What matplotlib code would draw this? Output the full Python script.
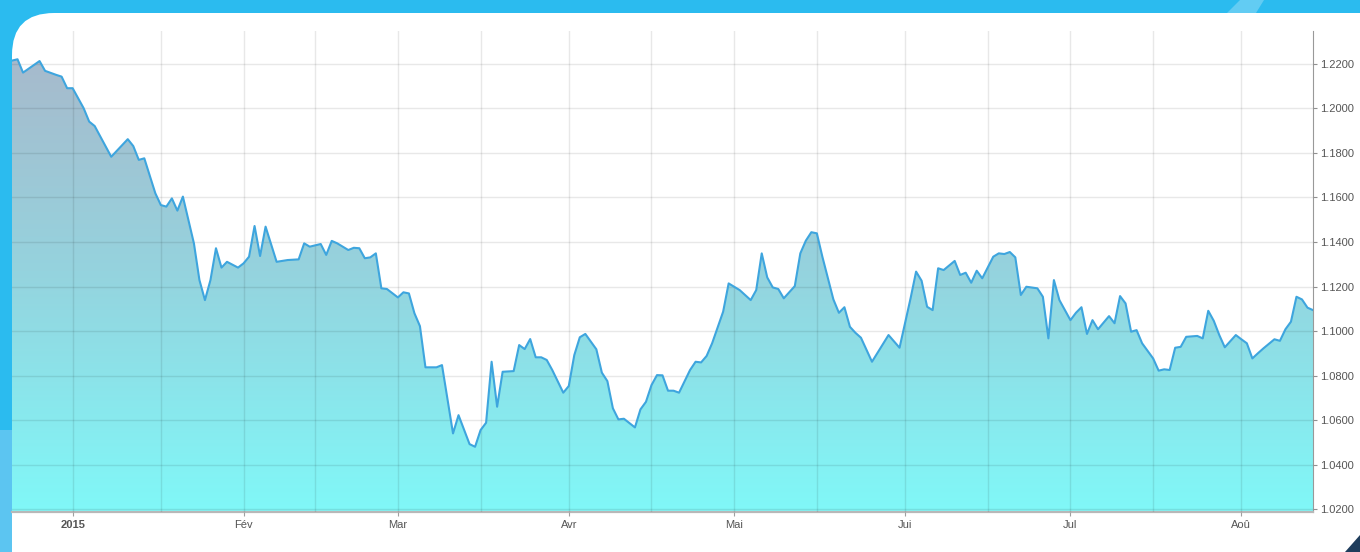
import numpy as np
import pandas as pd
import matplotlib
matplotlib.use("Agg")
import matplotlib.pyplot as plt
import matplotlib.dates as mdates
from matplotlib.colors import LinearSegmentedColormap
from matplotlib.patches import FancyBboxPatch, PathPatch, Polygon
from matplotlib import font_manager

# EUR/USD, dec 2014 - aug 2015
dates = [
    "2014-12-21", "2014-12-22", "2014-12-23", "2014-12-26", "2014-12-27", "2014-12-29",
    "2014-12-30", "2014-12-31", "2015-01-01", "2015-01-03", "2015-01-04", "2015-01-05",
    "2015-01-08", "2015-01-11", "2015-01-12", "2015-01-13", "2015-01-14", "2015-01-16",
    "2015-01-17", "2015-01-18", "2015-01-19", "2015-01-20", "2015-01-21", "2015-01-23",
    "2015-01-24", "2015-01-25", "2015-01-26", "2015-01-27", "2015-01-28", "2015-01-29",
    "2015-01-31", "2015-02-01", "2015-02-02", "2015-02-03", "2015-02-04", "2015-02-05",
    "2015-02-07", "2015-02-08", "2015-02-09", "2015-02-11", "2015-02-12", "2015-02-13",
    "2015-02-15", "2015-02-16", "2015-02-17", "2015-02-18", "2015-02-20", "2015-02-21",
    "2015-02-22", "2015-02-23", "2015-02-24", "2015-02-25", "2015-02-26", "2015-02-27",
    "2015-03-01", "2015-03-02", "2015-03-03", "2015-03-04", "2015-03-05", "2015-03-06",
    "2015-03-08", "2015-03-09", "2015-03-11", "2015-03-12", "2015-03-14", "2015-03-15",
    "2015-03-16", "2015-03-17", "2015-03-18", "2015-03-19", "2015-03-20", "2015-03-22",
    "2015-03-23", "2015-03-24", "2015-03-25", "2015-03-26", "2015-03-27", "2015-03-28",
    "2015-03-29", "2015-03-31", "2015-04-01", "2015-04-02", "2015-04-03", "2015-04-04",
    "2015-04-06", "2015-04-07", "2015-04-08", "2015-04-09", "2015-04-10", "2015-04-11",
    "2015-04-13", "2015-04-14", "2015-04-15", "2015-04-16", "2015-04-17", "2015-04-18",
    "2015-04-19", "2015-04-20", "2015-04-21", "2015-04-23", "2015-04-24", "2015-04-25",
    "2015-04-26", "2015-04-27", "2015-04-29", "2015-04-30", "2015-05-02", "2015-05-04",
    "2015-05-05", "2015-05-06", "2015-05-07", "2015-05-08", "2015-05-09", "2015-05-10",
    "2015-05-12", "2015-05-13", "2015-05-14", "2015-05-15", "2015-05-16", "2015-05-17",
    "2015-05-19", "2015-05-20", "2015-05-21", "2015-05-22", "2015-05-23", "2015-05-24",
    "2015-05-26", "2015-05-29", "2015-05-31", "2015-06-02", "2015-06-03", "2015-06-04",
    "2015-06-05", "2015-06-06", "2015-06-07", "2015-06-08", "2015-06-10", "2015-06-11",
    "2015-06-12", "2015-06-13", "2015-06-14", "2015-06-15", "2015-06-17", "2015-06-18",
    "2015-06-19", "2015-06-20", "2015-06-21", "2015-06-22", "2015-06-23", "2015-06-25",
    "2015-06-26", "2015-06-27", "2015-06-28", "2015-06-29", "2015-07-01", "2015-07-02",
    "2015-07-03", "2015-07-04", "2015-07-05", "2015-07-06", "2015-07-08", "2015-07-09",
    "2015-07-10", "2015-07-11", "2015-07-12", "2015-07-13", "2015-07-14", "2015-07-16",
    "2015-07-17", "2015-07-18", "2015-07-19", "2015-07-20", "2015-07-21", "2015-07-22",
    "2015-07-24", "2015-07-25", "2015-07-26", "2015-07-27", "2015-07-28", "2015-07-29",
    "2015-07-31", "2015-08-01", "2015-08-02", "2015-08-03", "2015-08-04", "2015-08-05",
    "2015-08-07", "2015-08-08", "2015-08-09", "2015-08-10", "2015-08-11", "2015-08-12",
    "2015-08-13", "2015-08-14",
]
rates = [
    1.2215, 1.2221, 1.2161, 1.2213, 1.2169, 1.2151,
    1.2143, 1.2091, 1.2091, 1.2001, 1.1941, 1.1921,
    1.1783, 1.1862, 1.1831, 1.1769, 1.1776, 1.1619,
    1.1566, 1.1559, 1.1596, 1.1541, 1.1604, 1.1394,
    1.1229, 1.1139, 1.1229, 1.1372, 1.1285, 1.1311,
    1.1285, 1.1304, 1.1334, 1.1472, 1.1337, 1.1469,
    1.1311, 1.1315, 1.1319, 1.1322, 1.1394, 1.1379,
    1.1391, 1.1342, 1.1405, 1.1394, 1.1364, 1.1374,
    1.1372, 1.1327, 1.1331, 1.1349, 1.1192, 1.1189,
    1.1151, 1.1174, 1.1169, 1.1080, 1.1022, 1.0837,
    1.0837, 1.0847, 1.0540, 1.0622, 1.0492, 1.0480,
    1.0555, 1.0588, 1.0862, 1.0660, 1.0817, 1.0820,
    1.0937, 1.0919, 1.0964, 1.0882, 1.0882, 1.0870,
    1.0825, 1.0723, 1.0753, 1.0892, 1.0972, 1.0987,
    1.0918, 1.0813, 1.0775, 1.0653, 1.0603, 1.0606,
    1.0567, 1.0648, 1.0682, 1.0757, 1.0802, 1.0801,
    1.0732, 1.0732, 1.0723, 1.0825, 1.0862, 1.0859,
    1.0888, 1.0945, 1.1087, 1.1214, 1.1184, 1.1139,
    1.1184, 1.1349, 1.1241, 1.1196, 1.1189, 1.1147,
    1.1202, 1.1349, 1.1406, 1.1444, 1.1439, 1.1334,
    1.1142, 1.1082, 1.1107, 1.1019, 1.0992, 1.0970,
    1.0862, 1.0982, 1.0925, 1.1147, 1.1267, 1.1226,
    1.1109, 1.1094, 1.1282, 1.1274, 1.1315, 1.1252,
    1.1262, 1.1217, 1.1271, 1.1237, 1.1334, 1.1349,
    1.1346, 1.1355, 1.1331, 1.1162, 1.1199, 1.1192,
    1.1154, 1.0967, 1.1229, 1.1139, 1.1049, 1.1082,
    1.1107, 1.0987, 1.1049, 1.1008, 1.1067, 1.1035,
    1.1157, 1.1124, 1.0997, 1.1004, 1.0945, 1.0877,
    1.0822, 1.0828, 1.0825, 1.0925, 1.0929, 1.0974,
    1.0978, 1.0967, 1.1091, 1.1046, 1.0982, 1.0927,
    1.0982, 1.0963, 1.0945, 1.0877, 1.0900, 1.0922,
    1.0963, 1.0956, 1.1008, 1.1042, 1.1154, 1.1142,
    1.1105, 1.1094,
]

month_ticks = ["2015-01-01", "2015-02-01", "2015-03-01", "2015-04-01",
               "2015-05-01", "2015-06-01", "2015-07-01", "2015-08-01"]
month_labels = ["2015", "Fév", "Mar", "Avr", "Mai", "Jui", "Jul", "Aoû"]
mid_ticks = ["2015-01-17", "2015-02-14", "2015-03-16", "2015-04-16",
             "2015-05-16", "2015-06-16", "2015-07-16"]
y_ticks = [1.02, 1.04, 1.06, 1.08, 1.10, 1.12, 1.14, 1.16, 1.18, 1.20, 1.22]

installed = {f.name for f in font_manager.fontManager.ttflist}
fam = [f for f in ["Liberation Sans Narrow", "Liberation Sans", "DejaVu Sans"] if f in installed]
plt.rcParams['font.family'] = fam

W, H = 1360, 552
fig = plt.figure(figsize=(W / 100, H / 100), dpi=100, facecolor='#2bbbef')

# decorations of the frame
fig.patches.append(Polygon([[0, 0], [12 / W, 0], [12 / W, 122 / H], [0, 122 / H]],
                           closed=True, transform=fig.transFigure, facecolor='#5cc5f1',
                           edgecolor='none'))
fig.patches.append(Polygon([[1240 / W, 1], [1264 / W, 1], [1256 / W, 539 / H], [1227 / W, 539 / H]],
                           closed=True, transform=fig.transFigure, facecolor='#62ccf3',
                           edgecolor='none'))
fig.patches.append(FancyBboxPatch((0.12, -1.0), 14.0, 6.39, boxstyle='round,pad=0,rounding_size=0.42',
                                  transform=fig.dpi_scale_trans, facecolor='white', edgecolor='none'))
fig.patches.append(Polygon([[1345 / W, 0], [1, 0], [1, 17 / H]], closed=True,
                           transform=fig.transFigure, facecolor='#1f3d5c', edgecolor='none'))

ax = fig.add_axes([12 / W, 40 / H, (1313 - 12) / W, (512 - 31) / H])
ax.set_facecolor('none')
ax.set_zorder(5)

x = mdates.date2num(pd.to_datetime(dates))
ymin, ymax = 1.0187, 1.2348
x0, x1 = x[0], x[-1]

# gradient area
poly = ax.fill_between(x, rates, ymin, color='none', lw=0)
clip = PathPatch(poly.get_paths()[0], transform=ax.transData, facecolor='none', edgecolor='none')
ax.add_patch(clip)
cmap = LinearSegmentedColormap.from_list('area', ['#a9b7ca', '#95d3de', '#80f8f8'])
grad = np.linspace(0, 1, 256).reshape(-1, 1)
im = ax.imshow(grad, extent=[x0, x1, ymin, ymax], aspect='auto', cmap=cmap,
               origin='upper', zorder=1, interpolation='bicubic')
im.set_clip_path(clip)

ax.plot(x, rates, color='#3ea5de', lw=1.5, zorder=3, solid_joinstyle='round')

ax.set_xlim(x0, x1)
ax.set_ylim(ymin, ymax)

ax.set_xticks(mdates.date2num(pd.to_datetime(month_ticks)))
ax.set_xticklabels(month_labels)
ax.set_xticks(mdates.date2num(pd.to_datetime(mid_ticks)), minor=True)
ax.get_xticklabels()[0].set_fontweight('bold')
ax.tick_params(axis='x', which='major', length=3, color='#a0a0a0', labelsize=8,
               labelcolor='#555555', pad=3)
ax.tick_params(axis='x', which='minor', length=0)

ax.yaxis.tick_right()
ax.set_yticks(y_ticks)
ax.set_yticklabels([f"{v:.4f}" for v in y_ticks])
ax.tick_params(axis='y', length=3, color='#909090', labelsize=8, labelcolor='#555555', pad=2)

ax.grid(which='both', color='black', alpha=0.09, lw=1, zorder=2)
ax.set_axisbelow(False)
for s in ['left', 'top']:
    ax.spines[s].set_visible(False)
ax.spines['right'].set_color('#999999')
ax.spines['bottom'].set_color('#b8b8b8')
ax.spines['bottom'].set_linewidth(1.6)

fig.savefig('out.png', dpi=100, facecolor=fig.get_facecolor())
